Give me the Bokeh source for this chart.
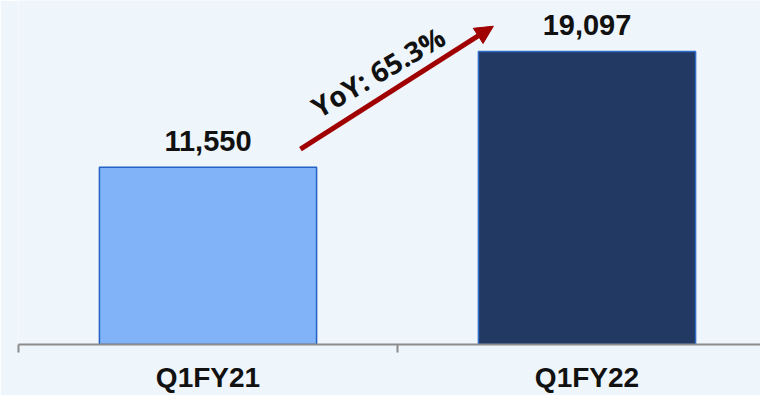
from bokeh.plotting import figure
from bokeh.models import ColumnDataSource, Range1d, FixedTicker, Arrow, NormalHead
from bokeh.core.properties import value
from bokeh.embed import file_html
from bokeh.resources import INLINE

# ---- data ----
categories = ["Q1FY21", "Q1FY22"]
values = [11550, 19097]
yoy_text = "YoY: 65.3%"
bar_colors = ["#80B3F7", "#213963"]
bar_lines = ["#2463C4", "#2F6BC9"]

xs = [i + 0.5 for i in range(len(categories))]
labels = [f"{v:,}" for v in values]

src = ColumnDataSource(dict(x=xs, top=values, label=labels,
                            fill=bar_colors, line=bar_lines))

BG = "#EEF5FB"
p = figure(width=760, height=395,
           x_range=Range1d(0, 742 / 379), y_range=Range1d(0, 22415),
           output_backend="svg", toolbar_location=None,
           min_border_left=18, min_border_right=0, min_border_top=0,
           min_border_bottom=46)
p.background_fill_color = BG
p.border_fill_color = BG
p.outline_line_color = None
p.xgrid.visible = False
p.ygrid.visible = False
p.yaxis.visible = False

p.vbar(x="x", top="top", bottom=0, width=0.573, source=src,
       fill_color="fill", line_color="line", line_width=1.5)

p.text(x="x", y="top", text="label", source=src, y_offset=-26,
       text_align="center", text_baseline="alphabetic",
       text_font=value("Liberation Sans"), text_font_style="bold",
       text_font_size="29px", text_color="#111111")

# YoY arrow (annotation)
x0, x1 = xs[0] + 0.244, xs[1] - 0.247
y0, y1 = values[0] * 1.102, values[1] * 1.086
arrow = Arrow(x_start=x0, y_start=y0, x_end=x1, y_end=y1,
              line_color="#A00000", line_width=5,
              end=NormalHead(size=18, fill_color="#A00000",
                             line_color="#A00000", line_width=1))
p.add_layout(arrow)

p.text(x=[(x0 + x1) / 2 - 0.05], y=[(y0 + y1) / 2 + 1050], text=[yoy_text],
       angle=0.53, text_align="center", text_baseline="middle",
       text_font=value("Open Sans"), text_font_style="bold",
       text_font_size="28px", text_color="#111111")

ax = p.xaxis[0]
ax.ticker = FixedTicker(ticks=xs, minor_ticks=[0, 1, 2])
ax.major_label_overrides = {x: c for x, c in zip(xs, categories)}
ax.major_tick_line_color = None
ax.major_tick_out = 0
ax.minor_tick_out = 8
ax.minor_tick_in = 0
ax.minor_tick_line_color = "#8C8C8C"
ax.minor_tick_line_width = 2
ax.axis_line_color = "#8C8C8C"
ax.axis_line_width = 2
ax.major_label_text_font = "Liberation Sans"
ax.major_label_text_font_style = "bold"
ax.major_label_text_font_size = "28px"
ax.major_label_text_color = "#111111"
ax.major_label_standoff = 9

open("out.html", "w").write(file_html(p, INLINE))
